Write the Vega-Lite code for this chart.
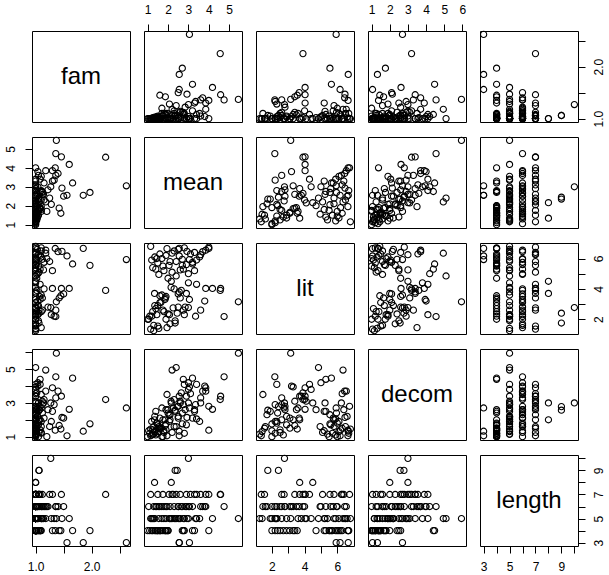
{
"$schema": "https://vega.github.io/schema/vega-lite/v6.json",
"background": "white",
"padding": {"left": 3, "top": 2, "right": 4, "bottom": 3},
"data": {"values": [
{"fam":1.00,"mean":1.20,"lit":5.90,"decom":1.10,"length":4},
{"fam":1.00,"mean":1.35,"lit":6.10,"decom":1.30,"length":4},
{"fam":1.02,"mean":1.50,"lit":5.70,"decom":1.20,"length":4},
{"fam":1.00,"mean":1.60,"lit":6.30,"decom":1.50,"length":4},
{"fam":1.05,"mean":1.75,"lit":5.50,"decom":1.00,"length":4},
{"fam":1.00,"mean":1.45,"lit":6.00,"decom":1.80,"length":4},
{"fam":1.08,"mean":1.90,"lit":6.20,"decom":1.40,"length":4},
{"fam":1.00,"mean":2.10,"lit":5.80,"decom":2.00,"length":5},
{"fam":1.10,"mean":2.30,"lit":6.50,"decom":1.60,"length":5},
{"fam":1.00,"mean":1.25,"lit":5.40,"decom":1.15,"length":5},
{"fam":1.03,"mean":2.50,"lit":6.60,"decom":2.20,"length":5},
{"fam":1.00,"mean":1.80,"lit":5.20,"decom":1.35,"length":5},
{"fam":1.12,"mean":2.70,"lit":5.95,"decom":2.40,"length":6},
{"fam":1.00,"mean":2.90,"lit":5.60,"decom":1.70,"length":6},
{"fam":1.15,"mean":3.20,"lit":5.75,"decom":2.10,"length":6},
{"fam":1.00,"mean":3.30,"lit":6.40,"decom":2.60,"length":7},
{"fam":1.05,"mean":3.60,"lit":6.25,"decom":3.00,"length":7},
{"fam":1.18,"mean":3.85,"lit":6.55,"decom":3.70,"length":6},
{"fam":1.00,"mean":4.00,"lit":6.75,"decom":2.80,"length":7},
{"fam":1.10,"mean":3.55,"lit":6.10,"decom":1.90,"length":5},
{"fam":1.00,"mean":1.40,"lit":5.30,"decom":2.50,"length":6},
{"fam":1.06,"mean":2.20,"lit":5.10,"decom":1.25,"length":7},
{"fam":1.00,"mean":1.95,"lit":6.65,"decom":1.05,"length":4},
{"fam":1.14,"mean":2.60,"lit":5.25,"decom":3.00,"length":5},
{"fam":1.00,"mean":1.15,"lit":6.80,"decom":1.45,"length":5},
{"fam":1.04,"mean":3.00,"lit":5.00,"decom":4.20,"length":6},
{"fam":1.00,"mean":2.40,"lit":4.85,"decom":5.10,"length":5},
{"fam":1.08,"mean":2.75,"lit":5.30,"decom":4.40,"length":4},
{"fam":1.00,"mean":3.10,"lit":6.30,"decom":3.55,"length":7},
{"fam":1.20,"mean":1.70,"lit":6.00,"decom":1.00,"length":6},
{"fam":1.00,"mean":2.05,"lit":5.55,"decom":2.30,"length":7},
{"fam":1.02,"mean":1.55,"lit":4.95,"decom":1.60,"length":6},
{"fam":1.10,"mean":2.80,"lit":6.70,"decom":1.20,"length":4},
{"fam":1.00,"mean":3.40,"lit":5.90,"decom":2.05,"length":5},
{"fam":1.00,"mean":1.00,"lit":2.00,"decom":1.00,"length":4},
{"fam":1.00,"mean":1.10,"lit":2.20,"decom":1.20,"length":4},
{"fam":1.02,"mean":1.25,"lit":2.50,"decom":1.40,"length":4},
{"fam":1.00,"mean":1.40,"lit":2.70,"decom":1.10,"length":4},
{"fam":1.05,"mean":1.50,"lit":2.90,"decom":1.70,"length":4},
{"fam":1.00,"mean":1.65,"lit":3.10,"decom":1.50,"length":4},
{"fam":1.08,"mean":1.85,"lit":3.30,"decom":2.00,"length":4},
{"fam":1.00,"mean":2.00,"lit":2.35,"decom":2.40,"length":4},
{"fam":1.00,"mean":1.20,"lit":2.20,"decom":1.90,"length":5},
{"fam":1.03,"mean":1.35,"lit":2.90,"decom":2.20,"length":5},
{"fam":1.00,"mean":1.55,"lit":1.40,"decom":1.30,"length":5},
{"fam":1.10,"mean":1.70,"lit":3.60,"decom":2.70,"length":5},
{"fam":1.00,"mean":2.15,"lit":4.10,"decom":3.10,"length":5},
{"fam":1.05,"mean":2.35,"lit":1.90,"decom":2.50,"length":5},
{"fam":1.00,"mean":2.55,"lit":3.80,"decom":3.40,"length":5},
{"fam":1.12,"mean":2.75,"lit":2.60,"decom":2.90,"length":5},
{"fam":1.00,"mean":3.00,"lit":4.40,"decom":3.80,"length":5},
{"fam":1.00,"mean":1.30,"lit":1.60,"decom":1.60,"length":6},
{"fam":1.04,"mean":1.45,"lit":2.30,"decom":1.80,"length":6},
{"fam":1.00,"mean":1.60,"lit":3.10,"decom":2.10,"length":6},
{"fam":1.07,"mean":1.90,"lit":3.50,"decom":2.60,"length":6},
{"fam":1.00,"mean":2.10,"lit":1.70,"decom":2.30,"length":6},
{"fam":1.15,"mean":2.30,"lit":4.00,"decom":3.20,"length":6},
{"fam":1.00,"mean":2.50,"lit":2.80,"decom":2.80,"length":6},
{"fam":1.02,"mean":2.65,"lit":3.90,"decom":3.60,"length":6},
{"fam":1.00,"mean":3.05,"lit":3.30,"decom":3.95,"length":6},
{"fam":1.10,"mean":1.80,"lit":2.50,"decom":1.25,"length":6},
{"fam":1.00,"mean":1.15,"lit":1.35,"decom":1.05,"length":7},
{"fam":1.00,"mean":1.50,"lit":1.55,"decom":1.50,"length":7},
{"fam":1.06,"mean":1.75,"lit":2.60,"decom":2.00,"length":7},
{"fam":1.00,"mean":2.25,"lit":2.75,"decom":2.70,"length":7},
{"fam":1.12,"mean":2.60,"lit":3.40,"decom":3.10,"length":7},
{"fam":1.00,"mean":2.90,"lit":3.70,"decom":3.40,"length":7},
{"fam":1.08,"mean":3.40,"lit":4.30,"decom":4.10,"length":7},
{"fam":1.00,"mean":1.30,"lit":1.25,"decom":1.15,"length":5},
{"fam":1.00,"mean":1.90,"lit":2.00,"decom":1.75,"length":5},
{"fam":1.00,"mean":1.34,"lit":3.70,"decom":2.00,"length":8},
{"fam":1.00,"mean":2.16,"lit":4.50,"decom":3.00,"length":8},
{"fam":1.06,"mean":2.35,"lit":1.75,"decom":2.57,"length":9},
{"fam":1.06,"mean":2.45,"lit":2.40,"decom":2.78,"length":9},
{"fam":1.04,"mean":3.80,"lit":3.20,"decom":4.00,"length":6},
{"fam":1.02,"mean":2.00,"lit":4.70,"decom":2.60,"length":4},
{"fam":1.00,"mean":1.05,"lit":2.00,"decom":1.35,"length":6},
{"fam":1.00,"mean":2.80,"lit":2.30,"decom":4.10,"length":5},
{"fam":1.10,"mean":1.95,"lit":1.45,"decom":3.50,"length":6},
{"fam":1.27,"mean":3.00,"lit":2.77,"decom":3.00,"length":10},
{"fam":2.62,"mean":3.05,"lit":5.93,"decom":2.70,"length":3},
{"fam":2.25,"mean":4.56,"lit":3.90,"decom":3.20,"length":7},
{"fam":1.85,"mean":2.55,"lit":6.67,"decom":1.32,"length":3},
{"fam":1.97,"mean":2.70,"lit":5.55,"decom":1.76,"length":4},
{"fam":1.66,"mean":3.20,"lit":5.64,"decom":4.47,"length":4},
{"fam":1.60,"mean":4.18,"lit":4.03,"decom":2.62,"length":5},
{"fam":1.56,"mean":2.55,"lit":6.17,"decom":1.05,"length":3},
{"fam":1.50,"mean":2.50,"lit":3.67,"decom":2.10,"length":6},
{"fam":1.46,"mean":4.58,"lit":4.03,"decom":3.40,"length":7},
{"fam":1.47,"mean":2.93,"lit":6.47,"decom":2.14,"length":5},
{"fam":1.37,"mean":5.45,"lit":3.15,"decom":5.95,"length":5},
{"fam":1.36,"mean":4.75,"lit":2.18,"decom":4.55,"length":6},
{"fam":1.35,"mean":4.00,"lit":6.66,"decom":1.38,"length":4},
{"fam":1.42,"mean":1.87,"lit":3.40,"decom":1.66,"length":4},
{"fam":1.30,"mean":3.85,"lit":4.03,"decom":3.90,"length":7},
{"fam":1.36,"mean":3.60,"lit":2.60,"decom":3.30,"length":6},
{"fam":1.28,"mean":2.07,"lit":2.30,"decom":1.90,"length":5},
{"fam":1.22,"mean":2.84,"lit":2.80,"decom":2.60,"length":6},
{"fam":1.33,"mean":3.35,"lit":2.20,"decom":2.90,"length":5},
{"fam":1.30,"mean":3.30,"lit":5.20,"decom":2.50,"length":4},
{"fam":1.25,"mean":2.40,"lit":5.80,"decom":1.60,"length":7},
{"fam":1.40,"mean":3.70,"lit":6.45,"decom":3.70,"length":6},
{"fam":1.18,"mean":2.20,"lit":6.35,"decom":4.95,"length":5},
{"fam":1.45,"mean":1.60,"lit":3.55,"decom":1.45,"length":4}
]},
"columns": 5,
"spacing": {"row": 15, "column": 14},
"bounds": "flush",
"concat": [
{"width":98,"height":91,"data":{"values":[{"name":"fam"}]},"mark":{"type":"text","fontSize":24,"font":"Liberation Sans","color":"black","align":"center","baseline":"middle"},"encoding":{"text":{"field":"name"},"x":{"datum":0.5,"type":"quantitative","scale":{"domain":[0,1]},"axis":null},"y":{"datum":0.5,"type":"quantitative","scale":{"domain":[0,1]},"axis":null}}},
{"width":98,"height":91,"mark":{"type":"point","shape":"circle","filled":false,"color":"black","size":38,"strokeWidth":1.1,"opacity":1},"encoding":{"x":{"field":"mean","type":"quantitative","title":null,"scale":{"domain":[0.822,5.628],"nice":false,"zero":false},"axis":{"orient":"top","values":[1,2,3,4,5]}},"y":{"field":"fam","type":"quantitative","title":null,"scale":{"domain":[0.935,2.685],"nice":false,"zero":false},"axis":null}}},
{"width":98,"height":91,"mark":{"type":"point","shape":"circle","filled":false,"color":"black","size":38,"strokeWidth":1.1,"opacity":1},"encoding":{"x":{"field":"lit","type":"quantitative","title":null,"scale":{"domain":[1.028,7.022],"nice":false,"zero":false},"axis":null},"y":{"field":"fam","type":"quantitative","title":null,"scale":{"domain":[0.935,2.685],"nice":false,"zero":false},"axis":null}}},
{"width":98,"height":91,"mark":{"type":"point","shape":"circle","filled":false,"color":"black","size":38,"strokeWidth":1.1,"opacity":1},"encoding":{"x":{"field":"decom","type":"quantitative","title":null,"scale":{"domain":[0.8,6.2],"nice":false,"zero":false},"axis":{"orient":"top","values":[1,2,3,4,5,6]}},"y":{"field":"fam","type":"quantitative","title":null,"scale":{"domain":[0.935,2.685],"nice":false,"zero":false},"axis":null}}},
{"width":98,"height":91,"mark":{"type":"point","shape":"circle","filled":false,"color":"black","size":38,"strokeWidth":1.1,"opacity":1},"encoding":{"x":{"field":"length","type":"quantitative","title":null,"scale":{"domain":[2.72,10.28],"nice":false,"zero":false},"axis":null},"y":{"field":"fam","type":"quantitative","title":null,"scale":{"domain":[0.935,2.685],"nice":false,"zero":false},"axis":{"orient":"right","values":[1,1.5,2,2.5],"labelExpr":"datum.value == 1 ? '1.0' : (datum.value == 2 ? '2.0' : '')","labelAngle":-90,"labelAlign":"center","labelBaseline":"top"}}}},

{"width":98,"height":91,"mark":{"type":"point","shape":"circle","filled":false,"color":"black","size":38,"strokeWidth":1.1,"opacity":1},"encoding":{"x":{"field":"fam","type":"quantitative","title":null,"scale":{"domain":[0.935,2.685],"nice":false,"zero":false},"axis":null},"y":{"field":"mean","type":"quantitative","title":null,"scale":{"domain":[0.822,5.628],"nice":false,"zero":false},"axis":{"orient":"left","values":[1,2,3,4,5],"labelAngle":-90,"labelAlign":"center","labelBaseline":"bottom"}}}},
{"width":98,"height":91,"data":{"values":[{"name":"mean"}]},"mark":{"type":"text","fontSize":24,"font":"Liberation Sans","color":"black","align":"center","baseline":"middle"},"encoding":{"text":{"field":"name"},"x":{"datum":0.5,"type":"quantitative","scale":{"domain":[0,1]},"axis":null},"y":{"datum":0.5,"type":"quantitative","scale":{"domain":[0,1]},"axis":null}}},
{"width":98,"height":91,"mark":{"type":"point","shape":"circle","filled":false,"color":"black","size":38,"strokeWidth":1.1,"opacity":1},"encoding":{"x":{"field":"lit","type":"quantitative","title":null,"scale":{"domain":[1.028,7.022],"nice":false,"zero":false},"axis":null},"y":{"field":"mean","type":"quantitative","title":null,"scale":{"domain":[0.822,5.628],"nice":false,"zero":false},"axis":null}}},
{"width":98,"height":91,"mark":{"type":"point","shape":"circle","filled":false,"color":"black","size":38,"strokeWidth":1.1,"opacity":1},"encoding":{"x":{"field":"decom","type":"quantitative","title":null,"scale":{"domain":[0.8,6.2],"nice":false,"zero":false},"axis":null},"y":{"field":"mean","type":"quantitative","title":null,"scale":{"domain":[0.822,5.628],"nice":false,"zero":false},"axis":null}}},
{"width":98,"height":91,"mark":{"type":"point","shape":"circle","filled":false,"color":"black","size":38,"strokeWidth":1.1,"opacity":1},"encoding":{"x":{"field":"length","type":"quantitative","title":null,"scale":{"domain":[2.72,10.28],"nice":false,"zero":false},"axis":null},"y":{"field":"mean","type":"quantitative","title":null,"scale":{"domain":[0.822,5.628],"nice":false,"zero":false},"axis":null}}},

{"width":98,"height":91,"mark":{"type":"point","shape":"circle","filled":false,"color":"black","size":38,"strokeWidth":1.1,"opacity":1},"encoding":{"x":{"field":"fam","type":"quantitative","title":null,"scale":{"domain":[0.935,2.685],"nice":false,"zero":false},"axis":null},"y":{"field":"lit","type":"quantitative","title":null,"scale":{"domain":[1.028,7.022],"nice":false,"zero":false},"axis":null}}},
{"width":98,"height":91,"mark":{"type":"point","shape":"circle","filled":false,"color":"black","size":38,"strokeWidth":1.1,"opacity":1},"encoding":{"x":{"field":"mean","type":"quantitative","title":null,"scale":{"domain":[0.822,5.628],"nice":false,"zero":false},"axis":null},"y":{"field":"lit","type":"quantitative","title":null,"scale":{"domain":[1.028,7.022],"nice":false,"zero":false},"axis":null}}},
{"width":98,"height":91,"data":{"values":[{"name":"lit"}]},"mark":{"type":"text","fontSize":24,"font":"Liberation Sans","color":"black","align":"center","baseline":"middle"},"encoding":{"text":{"field":"name"},"x":{"datum":0.5,"type":"quantitative","scale":{"domain":[0,1]},"axis":null},"y":{"datum":0.5,"type":"quantitative","scale":{"domain":[0,1]},"axis":null}}},
{"width":98,"height":91,"mark":{"type":"point","shape":"circle","filled":false,"color":"black","size":38,"strokeWidth":1.1,"opacity":1},"encoding":{"x":{"field":"decom","type":"quantitative","title":null,"scale":{"domain":[0.8,6.2],"nice":false,"zero":false},"axis":null},"y":{"field":"lit","type":"quantitative","title":null,"scale":{"domain":[1.028,7.022],"nice":false,"zero":false},"axis":null}}},
{"width":98,"height":91,"mark":{"type":"point","shape":"circle","filled":false,"color":"black","size":38,"strokeWidth":1.1,"opacity":1},"encoding":{"x":{"field":"length","type":"quantitative","title":null,"scale":{"domain":[2.72,10.28],"nice":false,"zero":false},"axis":null},"y":{"field":"lit","type":"quantitative","title":null,"scale":{"domain":[1.028,7.022],"nice":false,"zero":false},"axis":{"orient":"right","values":[2,3,4,5,6],"labelExpr":"datum.value % 2 == 0 ? datum.label : ''","labelAngle":-90,"labelAlign":"center","labelBaseline":"top"}}}},

{"width":98,"height":91,"mark":{"type":"point","shape":"circle","filled":false,"color":"black","size":38,"strokeWidth":1.1,"opacity":1},"encoding":{"x":{"field":"fam","type":"quantitative","title":null,"scale":{"domain":[0.935,2.685],"nice":false,"zero":false},"axis":null},"y":{"field":"decom","type":"quantitative","title":null,"scale":{"domain":[0.8,6.2],"nice":false,"zero":false},"axis":{"orient":"left","values":[1,2,3,4,5,6],"labelExpr":"datum.value % 2 == 1 ? datum.label : ''","labelAngle":-90,"labelAlign":"center","labelBaseline":"bottom"}}}},
{"width":98,"height":91,"mark":{"type":"point","shape":"circle","filled":false,"color":"black","size":38,"strokeWidth":1.1,"opacity":1},"encoding":{"x":{"field":"mean","type":"quantitative","title":null,"scale":{"domain":[0.822,5.628],"nice":false,"zero":false},"axis":null},"y":{"field":"decom","type":"quantitative","title":null,"scale":{"domain":[0.8,6.2],"nice":false,"zero":false},"axis":null}}},
{"width":98,"height":91,"mark":{"type":"point","shape":"circle","filled":false,"color":"black","size":38,"strokeWidth":1.1,"opacity":1},"encoding":{"x":{"field":"lit","type":"quantitative","title":null,"scale":{"domain":[1.028,7.022],"nice":false,"zero":false},"axis":null},"y":{"field":"decom","type":"quantitative","title":null,"scale":{"domain":[0.8,6.2],"nice":false,"zero":false},"axis":null}}},
{"width":98,"height":91,"data":{"values":[{"name":"decom"}]},"mark":{"type":"text","fontSize":24,"font":"Liberation Sans","color":"black","align":"center","baseline":"middle"},"encoding":{"text":{"field":"name"},"x":{"datum":0.5,"type":"quantitative","scale":{"domain":[0,1]},"axis":null},"y":{"datum":0.5,"type":"quantitative","scale":{"domain":[0,1]},"axis":null}}},
{"width":98,"height":91,"mark":{"type":"point","shape":"circle","filled":false,"color":"black","size":38,"strokeWidth":1.1,"opacity":1},"encoding":{"x":{"field":"length","type":"quantitative","title":null,"scale":{"domain":[2.72,10.28],"nice":false,"zero":false},"axis":null},"y":{"field":"decom","type":"quantitative","title":null,"scale":{"domain":[0.8,6.2],"nice":false,"zero":false},"axis":null}}},

{"width":98,"height":91,"mark":{"type":"point","shape":"circle","filled":false,"color":"black","size":38,"strokeWidth":1.1,"opacity":1},"encoding":{"x":{"field":"fam","type":"quantitative","title":null,"scale":{"domain":[0.935,2.685],"nice":false,"zero":false},"axis":{"orient":"bottom","values":[1,1.5,2,2.5],"labelExpr":"datum.value == 1 ? '1.0' : (datum.value == 2 ? '2.0' : '')"}},"y":{"field":"length","type":"quantitative","title":null,"scale":{"domain":[2.72,10.28],"nice":false,"zero":false},"axis":null}}},
{"width":98,"height":91,"mark":{"type":"point","shape":"circle","filled":false,"color":"black","size":38,"strokeWidth":1.1,"opacity":1},"encoding":{"x":{"field":"mean","type":"quantitative","title":null,"scale":{"domain":[0.822,5.628],"nice":false,"zero":false},"axis":null},"y":{"field":"length","type":"quantitative","title":null,"scale":{"domain":[2.72,10.28],"nice":false,"zero":false},"axis":null}}},
{"width":98,"height":91,"mark":{"type":"point","shape":"circle","filled":false,"color":"black","size":38,"strokeWidth":1.1,"opacity":1},"encoding":{"x":{"field":"lit","type":"quantitative","title":null,"scale":{"domain":[1.028,7.022],"nice":false,"zero":false},"axis":{"orient":"bottom","values":[2,3,4,5,6],"labelExpr":"datum.value % 2 == 0 ? datum.label : ''"}},"y":{"field":"length","type":"quantitative","title":null,"scale":{"domain":[2.72,10.28],"nice":false,"zero":false},"axis":null}}},
{"width":98,"height":91,"mark":{"type":"point","shape":"circle","filled":false,"color":"black","size":38,"strokeWidth":1.1,"opacity":1},"encoding":{"x":{"field":"decom","type":"quantitative","title":null,"scale":{"domain":[0.8,6.2],"nice":false,"zero":false},"axis":null},"y":{"field":"length","type":"quantitative","title":null,"scale":{"domain":[2.72,10.28],"nice":false,"zero":false},"axis":null}}},
{"width":98,"height":91,"data":{"values":[{"name":"length"}]},"mark":{"type":"text","fontSize":24,"font":"Liberation Sans","color":"black","align":"center","baseline":"middle"},"encoding":{"text":{"field":"name"},"x":{"datum":6.5,"type":"quantitative","scale":{"domain":[2.72,10.28],"nice":false,"zero":false},"axis":{"orient":"bottom","values":[3,4,5,6,7,8,9,10],"labelExpr":"datum.value % 2 == 1 ? datum.label : ''"}},"y":{"datum":6.5,"type":"quantitative","scale":{"domain":[2.72,10.28],"nice":false,"zero":false},"axis":{"orient":"right","values":[3,4,5,6,7,8,9,10],"labelExpr":"datum.value % 2 == 1 ? datum.label : ''","labelAngle":-90,"labelAlign":"center","labelBaseline":"top"}}}}
],
"config": {
"view": {"stroke": "black", "strokeWidth": 1},
"axis": {"domain": false, "grid": false, "ticks": true, "tickColor": "black", "tickSize": 7, "tickWidth": 1, "labelColor": "black", "labelFont": "Liberation Sans", "labelFontSize": 12, "labelPadding": 8, "labelOverlap": false, "labelFlush": false, "title": null}
}
}
